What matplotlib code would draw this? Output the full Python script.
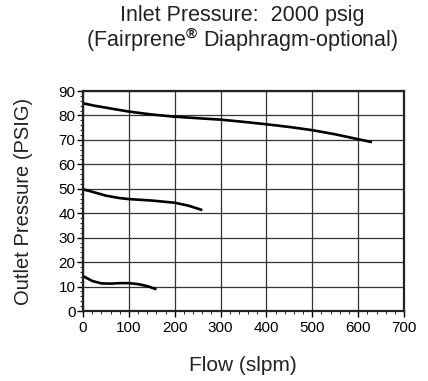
import matplotlib
matplotlib.use("Agg")
import matplotlib.pyplot as plt
from matplotlib.ticker import MultipleLocator

plt.rcParams['font.family'] = ['Liberation Sans', 'DejaVu Sans']
plt.rcParams['mathtext.fontset'] = 'custom'
plt.rcParams['mathtext.rm'] = 'Liberation Sans'
plt.rcParams['mathtext.bf'] = 'Liberation Sans:bold'

# Data
flow_high = [0, 25, 50, 100, 150, 200, 250, 300, 350, 400, 450, 500, 550, 600, 630]
out_high = [85, 84, 83.2, 81.6, 80.4, 79.5, 78.9, 78.3, 77.4, 76.4, 75.3, 74.0, 72.3, 70.3, 69.1]

flow_mid = [0, 20, 50, 80, 100, 150, 200, 230, 260]
out_mid = [49.8, 48.8, 47.2, 46.2, 45.8, 45.2, 44.3, 43.1, 41.3]

flow_low = [0, 20, 40, 60, 80, 100, 120, 140, 160]
out_low = [14.3, 12.3, 11.3, 11.2, 11.4, 11.4, 11.0, 10.2, 8.9]

fig = plt.figure(figsize=(4.28, 3.81), dpi=100)
ax = fig.add_axes([0.194, 0.1837, 0.750, 0.5773])

for x, y in [(flow_high, out_high), (flow_mid, out_mid), (flow_low, out_low)]:
    ax.plot(x, y, color='black', lw=1.9, solid_capstyle='butt')

ax.set_xlim(0, 700)
ax.set_ylim(0, 90)
ax.xaxis.set_major_locator(MultipleLocator(100))
ax.xaxis.set_minor_locator(MultipleLocator(20))
ax.yaxis.set_major_locator(MultipleLocator(10))
ax.yaxis.set_minor_locator(MultipleLocator(2))
ax.grid(True, which='major', color='#333333', lw=0.9)
for s in ax.spines.values():
    s.set_linewidth(1.6)
    s.set_color('#222222')
ax.tick_params(which='major', direction='out', length=4, width=1, labelsize=11)
ax.tick_params(axis='x', which='major', pad=3)
ax.tick_params(axis='y', which='major', pad=1.5)
ax.tick_params(which='minor', direction='out', length=2, width=0.6)

fig.text(0.567, 0.040, 'Flow (slpm)', ha='center', va='center', fontsize=15, color='#222222')
fig.text(0.055, 0.4725, 'Outlet Pressure (PSIG)', ha='center', va='center', rotation=90,
         fontsize=14.5, color='#222222')
fig.text(0.567, 0.960, 'Inlet Pressure:  2000 psig', ha='center', va='center', fontsize=15.5, color='#222222')
fig.text(0.567, 0.897, r'(Fairprene$^{\mathbf{®}}$ Diaphragm-optional)', ha='center', va='center',
         fontsize=15.5, color='#222222')

fig.savefig('out.png', dpi=100)
